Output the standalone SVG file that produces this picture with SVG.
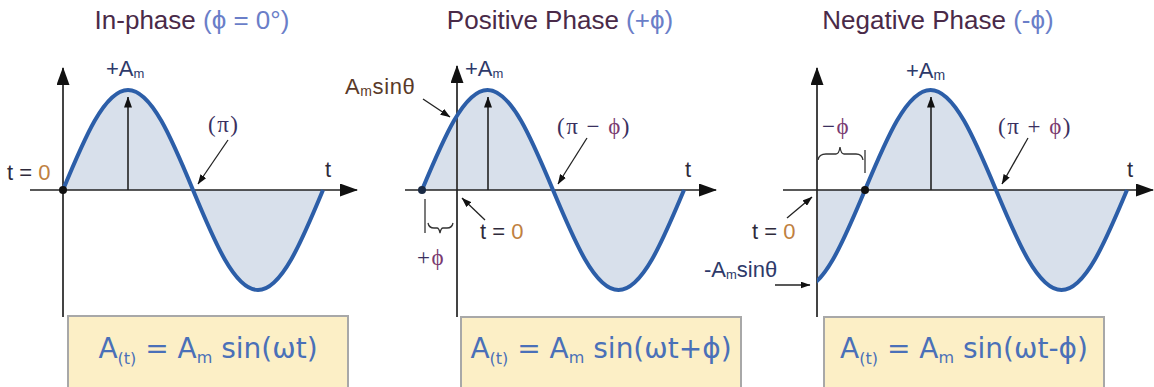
<svg xmlns="http://www.w3.org/2000/svg" width="1154" height="387" viewBox="0 0 1154 387">
<style>
.title{font-family:"Liberation Sans",Arial,sans-serif;font-size:26px;fill:#4a2a48}
.tblue{fill:#6a7ec8}
.lbl{font-family:"Liberation Sans",Arial,sans-serif;font-size:22px;fill:#2e2a3a}
.ser{font-family:"Liberation Serif","Times New Roman",serif;font-size:23px;letter-spacing:1.5px;fill:#3a3060}
.phi{fill:#7a3a70}
.zero{fill:#c08040}
.brown{fill:#5a3a28}
.navy{fill:#2e3a6a}
.axis{stroke:#222;stroke-width:1.6;fill:none}
.yaxis{stroke:#444;stroke-width:2;fill:none}
.wave{stroke:#2c5ea8;stroke-width:4;fill:none;stroke-linejoin:round}
.area{fill:#d8e0eb;stroke:none}
.amp{stroke:#222;stroke-width:1.6;fill:none}
.ptr{stroke:#222;stroke-width:1.3;fill:none}
.brace{stroke:#333;stroke-width:1.3;fill:none}
.box{fill:#fcefc6;stroke:#a8a8a8;stroke-width:2}
.formula{font-family:"DejaVu Sans",Verdana,sans-serif;font-size:28px;fill:#4a70b8}
</style>
<defs>
<marker id="axhead" viewBox="0 0 18 13" refX="17" refY="6.5" markerWidth="18" markerHeight="13" markerUnits="userSpaceOnUse" orient="auto"><path d="M0,0 L18,6.5 L0,13 Z" fill="#111"/></marker>
<marker id="amphead" viewBox="0 0 11 8" refX="10.5" refY="4" markerWidth="11" markerHeight="8" markerUnits="userSpaceOnUse" orient="auto"><path d="M0,0 L11,4 L0,8 Z" fill="#111"/></marker>
<marker id="ptrhead" viewBox="0 0 10 7" refX="9.5" refY="3.5" markerWidth="10" markerHeight="7" markerUnits="userSpaceOnUse" orient="auto"><path d="M0,0 L10,3.5 L0,7 Z" fill="#111"/></marker>
<clipPath id="clip3"><rect x="817" y="60" width="337" height="260"/></clipPath>
</defs>

<g id="panel-inphase">
  <text class="title" x="192" y="29" text-anchor="middle">In-phase <tspan class="tblue">(ϕ = 0°)</tspan></text>
  <path class="area" d="M63,190 C84.2,138.8 104.6,90 128,90 C151.4,90 171.8,138.8 193,190 C214.2,241.2 234.6,290 258,290 C281.4,290 301.8,241.2 323,190 Z"/>
  <line class="yaxis" x1="63" y1="317" x2="63" y2="68" marker-end="url(#axhead)"/>
  <line class="axis" x1="30" y1="190" x2="357" y2="190" marker-end="url(#axhead)"/>
  <line class="amp" x1="128" y1="190" x2="128" y2="97" marker-end="url(#amphead)"/>
  <path class="wave" d="M63,190 C84.2,138.8 104.6,90 128,90 C151.4,90 171.8,138.8 193,190 C214.2,241.2 234.6,290 258,290 C281.4,290 301.8,241.2 323,190"/>
  <circle cx="63" cy="190" r="4" fill="#111"/>
  <text class="lbl navy" x="106" y="76" font-size="19">+A<tspan font-size="13" dy="2">m</tspan></text>
  <text class="lbl" x="7" y="180">t = <tspan class="zero">0</tspan></text>
  <text class="lbl" x="325" y="177">t</text>
  <text class="ser" x="208" y="132">(π)</text>
  <line class="ptr" x1="228" y1="140" x2="198" y2="184" marker-end="url(#ptrhead)"/>
  <rect class="box" x="68" y="316" width="280" height="80"/>
  <text class="formula" x="208" y="358" text-anchor="middle">A<tspan font-size="16" dy="6">(t)</tspan><tspan dy="-6"> = A</tspan><tspan font-size="16" dy="5">m</tspan><tspan dy="-5"> sin(ωt)</tspan></text>
</g>

<g id="panel-positive">
  <text class="title" x="560" y="29" text-anchor="middle">Positive Phase <tspan class="tblue">(+ϕ)</tspan></text>
  <path class="area" d="M422,190 C443.4,138.8 463.9,90 487.5,90 C511.1,90 531.6,138.8 553,190 C574.4,241.2 594.9,290 618.5,290 C642.1,290 662.6,241.2 684,190 Z"/>
  <line class="yaxis" x1="457" y1="317" x2="457" y2="66" marker-end="url(#axhead)"/>
  <line class="axis" x1="405" y1="190" x2="716" y2="190" marker-end="url(#axhead)"/>
  <line class="amp" x1="488" y1="190" x2="488" y2="97" marker-end="url(#amphead)"/>
  <path class="wave" d="M422,190 C443.4,138.8 463.9,90 487.5,90 C511.1,90 531.6,138.8 553,190 C574.4,241.2 594.9,290 618.5,290 C642.1,290 662.6,241.2 684,190"/>
  <circle cx="422" cy="190" r="4" fill="#1a2a44"/>
  <text class="lbl navy" x="465" y="76" font-size="19">+A<tspan font-size="13" dy="2">m</tspan></text>
  <text class="lbl brown" x="345" y="94" font-size="21" letter-spacing="0.6">A<tspan font-size="14" dy="2">m</tspan><tspan dy="-2">sinθ</tspan></text>
  <line class="ptr" x1="423" y1="99" x2="450" y2="117" marker-end="url(#ptrhead)"/>
  <text class="lbl" x="685" y="177">t</text>
  <text class="ser" x="557" y="134">(π − <tspan class="phi">ϕ</tspan>)</text>
  <line class="ptr" x1="587" y1="138" x2="558" y2="184" marker-end="url(#ptrhead)"/>
  <line class="brace" x1="425" y1="199" x2="425" y2="233"/>
  <path class="brace" d="M428,223 Q429,228 434,228 L437,228 Q439,228 440,233 Q441,228 443,228 L447,228 Q452,228 453,223"/>
  <text class="ser" x="417" y="265">+<tspan class="phi">ϕ</tspan></text>
  <text class="lbl" x="480" y="239">t = <tspan class="zero">0</tspan></text>
  <line class="ptr" x1="485" y1="220" x2="462" y2="198" marker-end="url(#ptrhead)"/>
  <rect class="box" x="461" y="317" width="280" height="80"/>
  <text class="formula" x="601" y="358" text-anchor="middle">A<tspan font-size="16" dy="6">(t)</tspan><tspan dy="-6"> = A</tspan><tspan font-size="16" dy="5">m</tspan><tspan dy="-5"> sin(ωt+ϕ)</tspan></text>
</g>

<g id="panel-negative">
  <text class="title" x="938" y="29" text-anchor="middle">Negative Phase <tspan class="tblue">(-ϕ)</tspan></text>
  <g clip-path="url(#clip3)">
    <path class="area" d="M799.5,190 L799.5,290 C823.1,290 843.6,241.2 865,190 C886.4,138.8 906.9,90 930.5,90 C954.1,90 974.6,138.8 996,190 C1017.4,241.2 1037.9,290 1061.5,290 C1085.1,290 1105.6,241.2 1127,190 Z"/>
  </g>
  <line class="yaxis" x1="817" y1="317" x2="817" y2="68" marker-end="url(#axhead)"/>
  <line class="axis" x1="783" y1="190" x2="1153" y2="190" marker-end="url(#axhead)"/>
  <line class="amp" x1="931" y1="190" x2="931" y2="97" marker-end="url(#amphead)"/>
  <g clip-path="url(#clip3)">
    <path class="wave" d="M799.5,290 C823.1,290 843.6,241.2 865,190 C886.4,138.8 906.9,90 930.5,90 C954.1,90 974.6,138.8 996,190 C1017.4,241.2 1037.9,290 1061.5,290 C1085.1,290 1105.6,241.2 1127,190"/>
  </g>
  <circle cx="865" cy="190" r="4" fill="#111"/>
  <text class="lbl navy" x="906" y="78" font-size="21">+A<tspan font-size="14" dy="2">m</tspan></text>
  <text class="lbl" x="1127" y="177">t</text>
  <text class="ser" x="998" y="134">(π + <tspan class="phi">ϕ</tspan>)</text>
  <line class="ptr" x1="1028" y1="138" x2="1002" y2="184" marker-end="url(#ptrhead)"/>
  <text class="ser" x="822" y="134">−<tspan class="phi">ϕ</tspan></text>
  <path class="brace" d="M818,160 Q819,154 826,154 L836,154 Q839,154 840,147 Q841,154 844,154 L856,154 Q862,154 863,160"/>
  <line class="brace" x1="865" y1="150" x2="865" y2="173"/>
  <text class="lbl" x="752" y="239">t = <tspan class="zero">0</tspan></text>
  <line class="ptr" x1="787" y1="218" x2="812" y2="197" marker-end="url(#ptrhead)"/>
  <text class="lbl navy" x="704" y="277" font-size="21">-A<tspan font-size="13" dy="2">m</tspan><tspan dy="-2">sinθ</tspan></text>
  <line class="ptr" x1="775" y1="285" x2="810" y2="285" marker-end="url(#ptrhead)"/>
  <rect class="box" x="824" y="317" width="280" height="80"/>
  <text class="formula" x="964" y="358" text-anchor="middle">A<tspan font-size="16" dy="6">(t)</tspan><tspan dy="-6"> = A</tspan><tspan font-size="16" dy="5">m</tspan><tspan dy="-5"> sin(ωt-ϕ)</tspan></text>
</g>
</svg>
